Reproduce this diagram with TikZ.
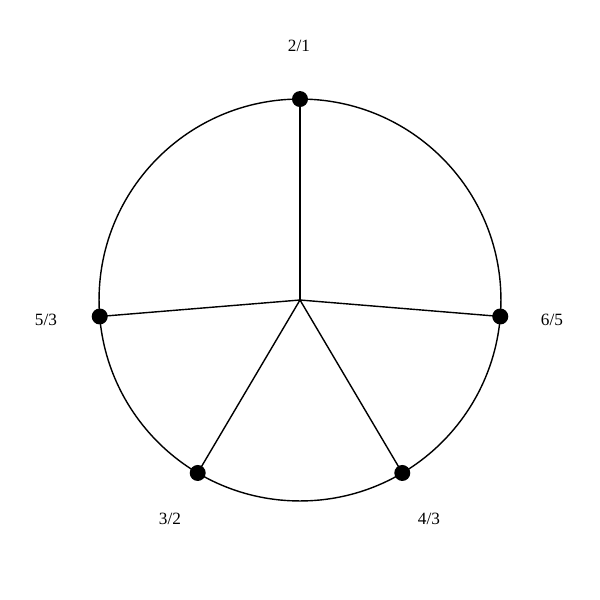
\documentclass[tikz,border=0pt]{standalone}
\usepackage{fontspec}
\setmainfont{Liberation Serif}
\usetikzlibrary{calc}
\begin{document}
\begin{tikzpicture}[x=0.02cm,y=-0.02cm,
  edge/.style={line width=0.8pt},
  dot/.style={circle,fill=black,inner sep=0pt,minimum size=0.32cm},
  lbl/.style={font=\fontsize{9.8}{11}\selectfont,inner sep=0pt}]
\useasboundingbox (0,0) rectangle (600,600);
\coordinate (c) at (300,300);
\draw[edge] (c) circle[radius=4.02cm];
\foreach \n/\a in {a/90, b/-4.7, f/-59.4, d/-120.6, e/-175.3}{
  \coordinate (p\n) at ($(c)+(\a:4.02cm)$);
  \draw[edge] (c) -- (p\n);
  \node[dot] (dot\n) at (p\n) {};
}
\node[lbl] (la) at (299,46) {2/1};
\node[lbl] (lb) at (552,320) {6/5};
\node[lbl] (lf) at (429,519) {4/3};
\node[lbl] (ld) at (170,519) {3/2};
\node[lbl] (le) at (46,320) {5/3};
\end{tikzpicture}
\end{document}
